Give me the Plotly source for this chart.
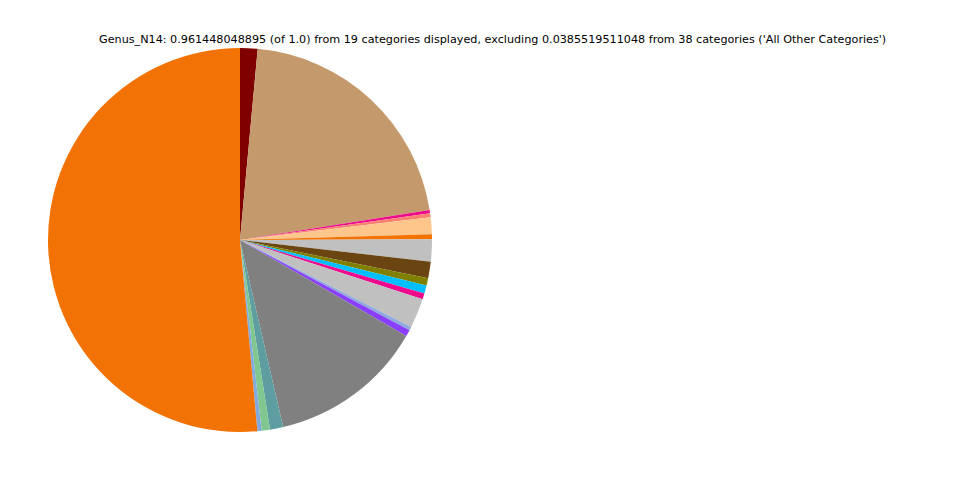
import plotly.graph_objects as go

categories = [f"Genus_{i}" for i in range(1, 20)]
values = [0.01415, 0.2022, 0.00267, 0.00320, 0.01362, 0.00401, 0.01789, 0.01335,
          0.00588, 0.00668, 0.00481, 0.02377, 0.00294, 0.00534, 0.12552, 0.01068,
          0.00668, 0.00347, 0.49461]
colors = ["#800000", "#C49A6C", "#EE0A8C", "#FA8072", "#FFC68C", "#F27304", "#C0C0C0",
          "#6B4511", "#808000", "#00BFFF", "#EE0A8C", "#C0C0C0", "#8FAADC", "#8A3FFC",
          "#808080", "#5F9EA0", "#80C890", "#82AADC", "#F27304"]
title_text = ("Genus_N14: 0.961448048895 (of 1.0) from 19 categories displayed, "
              "excluding 0.0385519511048 from 38 categories ('All Other Categories')")

fig = go.Figure(go.Pie(
    labels=categories, values=values, sort=False, direction="clockwise", rotation=0,
    marker=dict(colors=colors, line=dict(width=0)), textinfo="none", showlegend=False,
    domain=dict(x=[40/960, 424/960], y=[56/480, 440/480]),
))
fig.update_layout(
    width=960, height=480, margin=dict(l=0, r=0, t=0, b=0),
    paper_bgcolor="white", plot_bgcolor="white",
    annotations=[dict(text=title_text, x=484/960, y=1-32/480, xref="paper", yref="paper",
                      xanchor="center", yanchor="middle", showarrow=False,
                      font=dict(family="DejaVu Sans", size=11.2, color="black"))],
)
fig.write_html("out.html")
